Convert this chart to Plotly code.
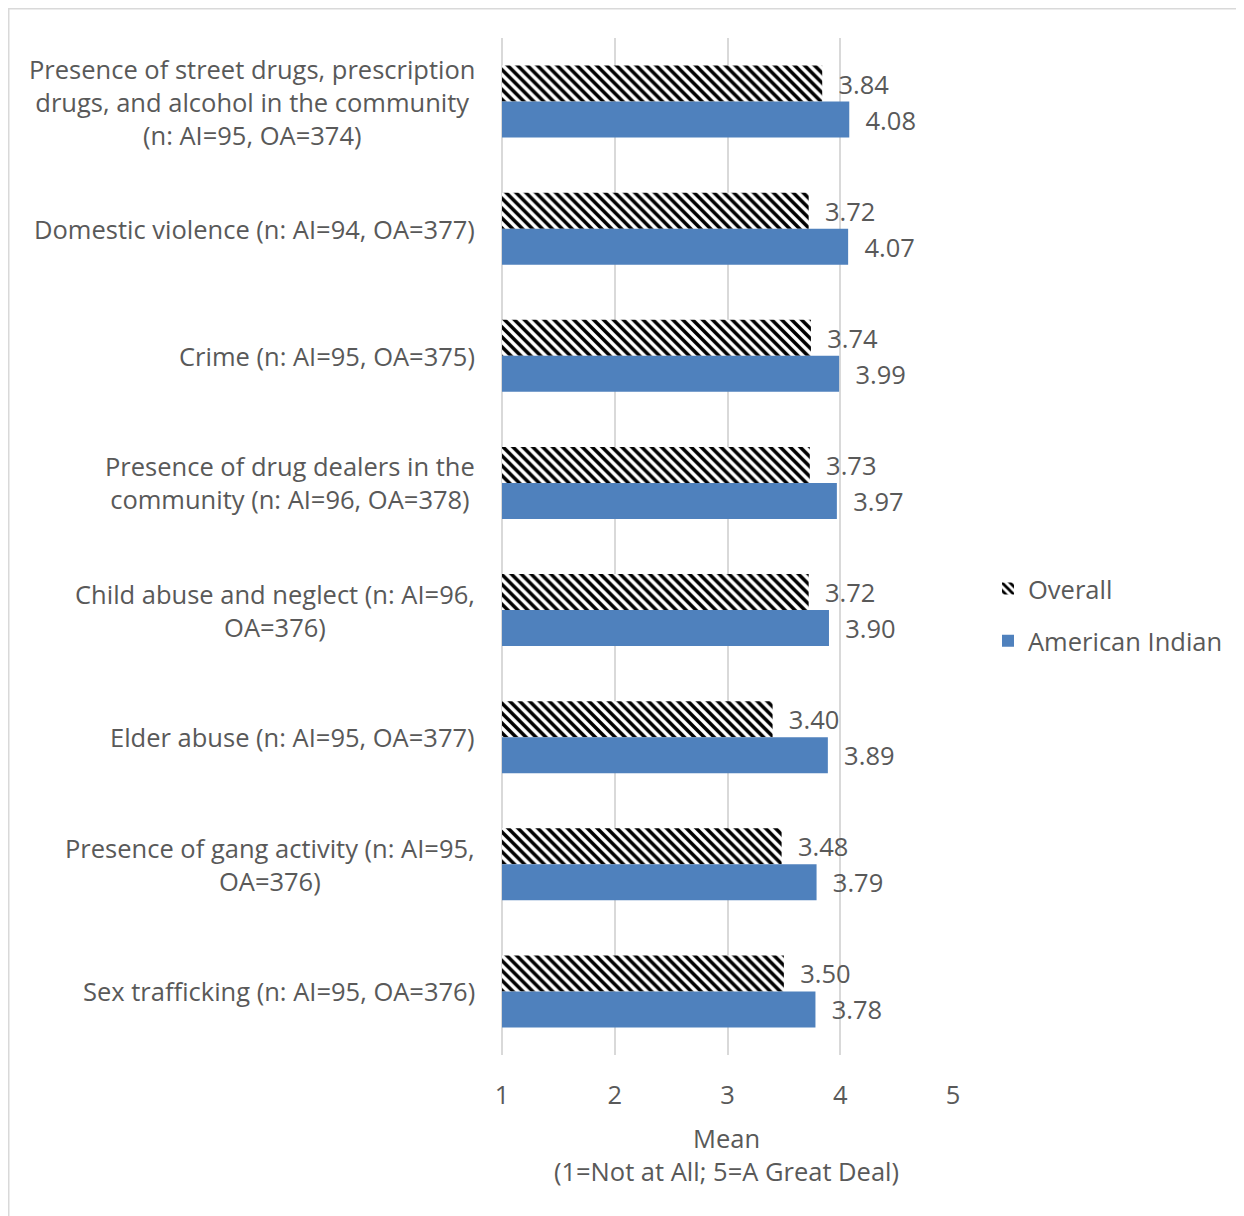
import plotly.graph_objects as go

categories = [
    "Presence of street drugs, prescription<br>drugs, and alcohol in the community<br>(n: AI=95, OA=374)",
    "Domestic violence (n: AI=94, OA=377)",
    "Crime (n: AI=95, OA=375)",
    "Presence of drug dealers in the<br>community (n: AI=96, OA=378)",
    "Child abuse and neglect (n: AI=96,<br>OA=376)",
    "Elder abuse (n: AI=95, OA=377)",
    "Presence of gang activity (n: AI=95,<br>OA=376)",
    "Sex trafficking (n: AI=95, OA=376)",
]
overall = [3.84, 3.72, 3.74, 3.73, 3.72, 3.40, 3.48, 3.50]
american_indian = [4.08, 4.07, 3.99, 3.97, 3.90, 3.89, 3.79, 3.78]
x_ticks = [1, 2, 3, 4, 5]
x_title = "Mean<br>(1=Not at All; 5=A Great Deal)"

FONT = "Open Sans"
TXT = "#595959"
FS = 25.5

# page has an 8px body margin; work in figure coordinates (page - 8)
OFF = 8
PAD = 2  # px of room left of x=1 so its gridline is drawn
W, H = 1244 - OFF, 1216 - OFF
L, T = 502 - PAD - OFF, 38 - OFF
R = W - (953 - OFF)
B = H - (1055 - OFF)
pw, ph = W - L - R, H - T - B
unit = (953 - 502) / (x_ticks[-1] - x_ticks[0])
x_lo = x_ticks[0] - PAD / unit

def px_x(page_x):
    return (page_x - OFF - L) / pw

def px_y(page_y):
    return 1 - (page_y - OFF - T) / ph

NB = "\u00a0\u00a0"

fig = go.Figure()
fig.add_trace(go.Bar(
    name="Overall", y=categories, x=overall, orientation="h",
    marker=dict(color="black", line=dict(width=0),
                pattern=dict(shape="\\", fgcolor="black", bgcolor="white",
                             size=7, solidity=0.5, fillmode="replace")),
    text=[f"{NB}{v:.2f}" for v in overall], textposition="outside",
    textfont=dict(family=FONT, size=FS, color=TXT), cliponaxis=False,
    legendgroup="a", base=x_ticks[0],
))
fig.add_trace(go.Bar(
    name="American Indian", y=categories, x=american_indian, orientation="h",
    marker=dict(color="#4f81bd", line=dict(width=0)),
    text=[f"{NB}{v:.2f}" for v in american_indian], textposition="outside",
    textfont=dict(family=FONT, size=FS, color=TXT), cliponaxis=False,
    legendgroup="b", base=x_ticks[0],
))
# bars start at 1 (the axis minimum): x holds length from base
fig.data[0].x = [v - x_ticks[0] for v in overall]
fig.data[1].x = [v - x_ticks[0] for v in american_indian]

for c in categories:
    fig.add_annotation(x=px_x(477), xref="paper", y=c, yref="y",
                       text=c, showarrow=False, xanchor="right", yanchor="middle",
                       align="center", font=dict(family=FONT, size=FS, color=TXT))

# outer chart border (left and top visible)
fig.add_shape(type="rect", xref="paper", yref="paper", layer="below",
              x0=px_x(OFF + 0.75), x1=px_x(1260), y0=px_y(1240), y1=px_y(OFF + 0.75),
              line=dict(color="#d9d9d9", width=1.5), fillcolor="rgba(0,0,0,0)")

fig.update_layout(
    width=W, height=H,
    margin=dict(l=L, r=R, t=T, b=B, autoexpand=False),
    paper_bgcolor="white", plot_bgcolor="white",
    barmode="group", bargap=0.433, bargroupgap=0,
    font=dict(family=FONT, size=FS, color=TXT),
    legend=dict(x=px_x(988), y=px_y(615), xanchor="left", yanchor="middle",
                traceorder="grouped", tracegroupgap=16,
                font=dict(family=FONT, size=FS, color=TXT), bgcolor="rgba(0,0,0,0)"),
    xaxis=dict(range=[x_lo, x_ticks[-1]], tickvals=x_ticks, showgrid=True,
               gridcolor="#d9d9d9", gridwidth=1.5, zeroline=False, showline=False, ticks="",
               ticklabelstandoff=22, tickfont=dict(family=FONT, size=FS, color=TXT),
               title=dict(text=x_title, standoff=20, font=dict(family=FONT, size=FS, color=TXT)),
               automargin=False),
    yaxis=dict(autorange="reversed", showticklabels=False, showgrid=False,
               zeroline=False, showline=False, ticks="", automargin=False),
)

fig.write_html("out.html")
